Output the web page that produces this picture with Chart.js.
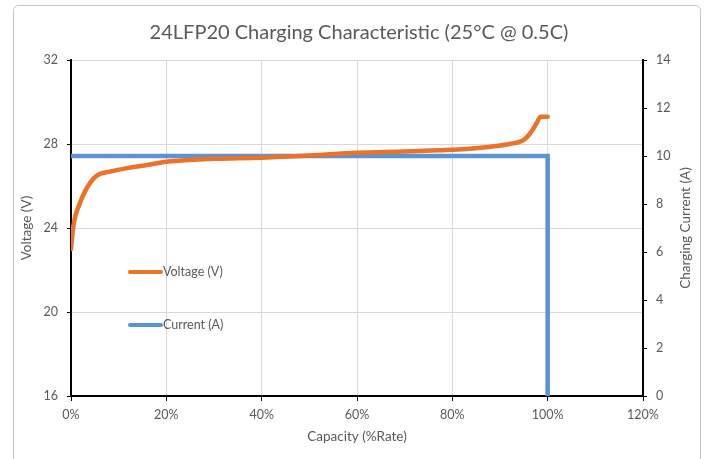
<!DOCTYPE html>
<html>
<head>
<meta charset="utf-8">
<script src="https://cdn.jsdelivr.net/npm/chart.js@4"></script>
<style>
  html, body { margin: 0; padding: 0; background: #fff; }
  #wrap { width: 708px; height: 459px; position: relative; }
</style>
</head>
<body>
<div id="wrap"><canvas id="chart"></canvas></div>
<script>
const titleText = '24LFP20 Charging Characteristic (25°C @ 0.5C)';
const xTitle = 'Capacity (%Rate)';
const yTitle = 'Voltage (V)';
const y1Title = 'Charging Current (A)';

// voltage curve
const voltCapacity = [0, 0.5, 1.9, 3.3, 4.7, 6.1, 8, 11.7, 16, 20, 25.6, 30, 40, 50, 60, 70, 77, 83, 88, 92, 95, 96.3, 97.7, 98.5, 100];
const voltValues   = [23.0, 24.1, 25.2, 25.9, 26.35, 26.58, 26.68, 26.85, 27.0, 27.15, 27.25, 27.3, 27.35, 27.45, 27.58, 27.64, 27.7, 27.76, 27.87, 28.0, 28.2, 28.5, 29.0, 29.3, 29.3];

// charging current
const currCapacity = [0, 100, 100];
const currValues   = [10, 10, 0];

const grey = '#595959';
const font = 'Lato, "Liberation Sans", sans-serif';

// title, axis titles, legend and outer frame
const decor = {
  id: 'decor',
  beforeDraw(chart) {
    const ctx = chart.ctx;
    ctx.save();
    ctx.strokeStyle = '#c6c6c6';
    ctx.lineWidth = 1;
    ctx.beginPath();
    ctx.roundRect(13.5, 5.5, 687, 470, 5);
    ctx.stroke();
    ctx.restore();
  },
  afterDraw(chart) {
    const ctx = chart.ctx;
    const area = chart.chartArea;
    ctx.save();
    ctx.fillStyle = grey;
    ctx.textAlign = 'center';
    ctx.textBaseline = 'middle';
    ctx.font = '20px ' + font;
    ctx.fillText(titleText, 359, 33);

    ctx.font = '13.5px ' + font;
    ctx.fillText(xTitle, (area.left + area.right) / 2, 437);

    const midY = (area.top + area.bottom) / 2;
    ctx.save();
    ctx.translate(27, midY);
    ctx.rotate(-Math.PI / 2);
    ctx.fillText(yTitle, 0, 0);
    ctx.restore();
    ctx.save();
    ctx.translate(686, midY);
    ctx.rotate(-Math.PI / 2);
    ctx.fillText(y1Title, 0, 0);
    ctx.restore();

    // legend inside plot
    const items = [[272, 0], [325, 1]];
    ctx.font = '12.5px ' + font;
    ctx.textAlign = 'left';
    items.forEach(([ly, i]) => {
      const ds = chart.data.datasets[i];
      ctx.strokeStyle = ds.borderColor;
      ctx.lineWidth = 4;
      ctx.lineCap = 'round';
      ctx.beginPath();
      ctx.moveTo(130, ly);
      ctx.lineTo(161, ly);
      ctx.stroke();
      ctx.fillText(ds.label, 163, ly);
    });
    ctx.restore();
  }
};

new Chart(document.getElementById('chart'), {
  type: 'line',
  data: {
    datasets: [{
      label: 'Voltage (V)',
      data: voltCapacity.map((c, i) => ({ x: c, y: voltValues[i] })),
      borderColor: '#EB7228',
      borderWidth: 4.5,
      pointRadius: 0,
      cubicInterpolationMode: 'monotone',
      borderCapStyle: 'round',
      yAxisID: 'y',
    }, {
      label: 'Current (A)',
      data: currCapacity.map((c, i) => ({ x: c, y: currValues[i] })),
      borderColor: '#5B93D3',
      borderWidth: 4.5,
      pointRadius: 0,
      tension: 0,
      yAxisID: 'y1',
    }],
  },
  options: {
    responsive: true,
    maintainAspectRatio: false,
    animation: false,
    layout: { padding: { top: 60, left: 0, right: 0, bottom: 0 } },
    plugins: {
      legend: { display: false },
      title: { display: false },
      tooltip: { enabled: false },
    },
    scales: {
      x: {
        type: 'linear',
        min: 0,
        max: 120,
        afterFit: (s) => { s.height = 63; },
        ticks: {
          stepSize: 20,
          padding: 6,
          color: grey,
          font: { family: font, size: 12.5 },
          callback: (v) => v + '%',
        },
        grid: { color: '#d9d9d9', tickColor: '#000', tickLength: 5 },
        border: { display: true, color: '#000', width: 2 },
      },
      y: {
        position: 'left',
        min: 16,
        max: 32,
        afterFit: (s) => { s.width = 71; },
        ticks: {
          stepSize: 4,
          padding: 9,
          color: grey,
          font: { family: font, size: 12.5 },
        },
        grid: { color: '#d9d9d9', tickColor: '#000', tickLength: 4 },
        border: { display: true, color: '#000', width: 2 },
      },
      y1: {
        position: 'right',
        min: 0,
        max: 14,
        afterFit: (s) => { s.width = 65; },
        ticks: {
          stepSize: 2,
          padding: 9,
          color: grey,
          font: { family: font, size: 12.5 },
        },
        grid: { drawOnChartArea: false, tickColor: '#000', tickLength: 4 },
        border: { display: true, color: '#000', width: 2 },
      },
    },
  },
  plugins: [decor],
});
</script>
</body>
</html>
